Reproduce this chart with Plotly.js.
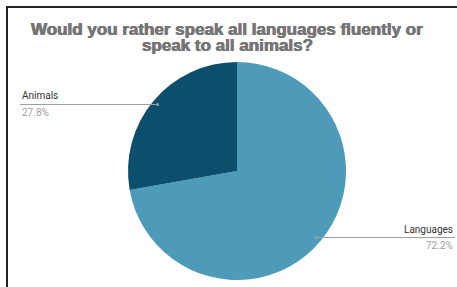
<!DOCTYPE html>
<html><head><meta charset="utf-8">
<script src="https://cdn.plot.ly/plotly-3.0.1.min.js"></script>
<style>
html,body{margin:0;padding:0;background:#fff;width:457px;height:287px;overflow:hidden;}
#frame{position:absolute;left:6px;top:6px;width:460px;height:290px;border-top:2px solid #222;border-left:2px solid #222;}
#chart{position:absolute;left:0;top:0;width:457px;height:287px;}
</style></head>
<body>
<div id="chart"></div>
<div id="frame"></div>
<script>
const labels = ["Languages", "Animals"];
const values = [72.2, 27.8];
const colors = ["#4e9ab9", "#0b4f6c"];
const titleLines = ["Would you rather speak all languages fluently or", "speak to all animals?"];

const W = 457, H = 287;
const cx = 237, cy = 171, R = 109;
const dom = {x: [(cx - R) / W, (cx + R) / W], y: [(H - cy - R) / H, (H - cy + R) / H]};

const total = values.reduce((a, b) => a + b, 0);
const annotations = [], shapes = [];
let start = 0;
values.forEach((v, i) => {
  const mid = (start + v / 2) / total * 2 * Math.PI; // clockwise from top
  start += v;
  const dx = Math.sin(mid), dy = Math.cos(mid);
  const px = cx + dx * R * 0.95, py = cy - dy * R * 0.95;
  const left = dx < 0;
  const ex = left ? 20 : 455;
  const pct = (v / total * 100).toFixed(1) + "%";
  shapes.push({type: "line", xref: "paper", yref: "paper", x0: px / W, x1: ex / W, y0: 1 - py / H, y1: 1 - py / H, line: {color: "#9e9e9e", width: 1}});
  shapes.push({type: "circle", xref: "paper", yref: "paper", x0: (px - 1.5) / W, x1: (px + 1.5) / W, y0: 1 - (py + 1.5) / H, y1: 1 - (py - 1.5) / H, fillcolor: "#9e9e9e", line: {width: 0}});
  annotations.push({xref: "paper", yref: "paper", x: ex / W, y: 1 - (py - 1) / H, xanchor: left ? "left" : "right", yanchor: "bottom", text: labels[i], showarrow: false, font: {family: "Roboto, Arial", size: 10, color: "#333333"}});
  annotations.push({xref: "paper", yref: "paper", x: ex / W, y: 1 - (py + 0.5) / H, xanchor: left ? "left" : "right", yanchor: "top", text: pct, showarrow: false, font: {family: "Roboto, Arial", size: 10, color: "#9e9e9e"}});
});
const titleY = [29, 45];
titleLines.forEach((t, i) => {
  annotations.push({xref: "paper", yref: "paper", x: 227 / W, y: 1 - titleY[i] / H, xanchor: "center", yanchor: "middle", text: t, showarrow: false,
    font: {family: "Liberation Sans, Arial", size: 17, color: "#757575", weight: "bold", shadow: "0.4px 0 0 #757575, -0.4px 0 0 #757575"}});
});

Plotly.newPlot("chart", [{
  type: "pie", labels: labels, values: values, sort: false, direction: "clockwise", rotation: 0,
  marker: {colors: colors, line: {width: 0}}, textinfo: "none", hoverinfo: "label+percent",
  domain: dom, showlegend: false
}], {
  width: W, height: H, margin: {l: 0, r: 0, t: 0, b: 0},
  paper_bgcolor: "#fff",
  annotations: annotations, shapes: shapes
}, {staticPlot: true});
</script>
</body></html>
